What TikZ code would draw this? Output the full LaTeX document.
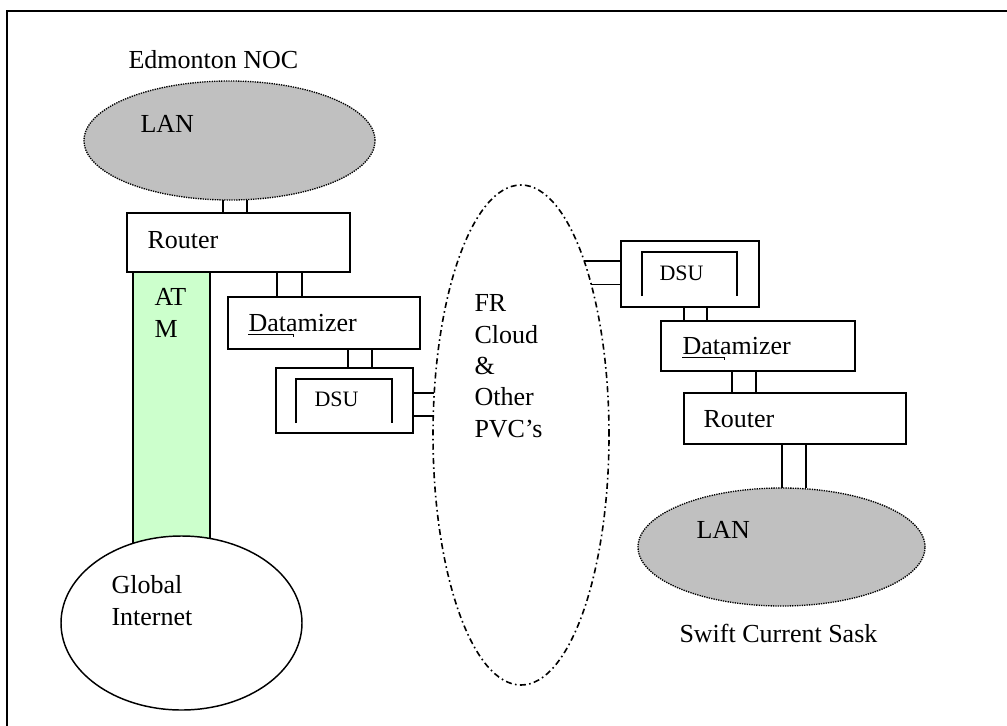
\documentclass[tikz,border=0pt]{standalone}
\usepackage{fontspec}
\setmainfont{Liberation Serif}
\usetikzlibrary{shapes.geometric}
\definecolor{langray}{RGB}{192,192,192}
\definecolor{atmgreen}{RGB}{204,255,204}
\tikzset{every picture/.style={line width=0.75pt}}
\tikzset{
  box/.style={draw, rectangle, line width=1.3pt, fill=white, inner sep=0pt, outer sep=0pt},
  lan/.style={draw, ellipse, fill=langray, line width=1pt, dash pattern={on 1pt off 0.8pt}, inner sep=0pt, outer sep=0pt},
  lbl/.style={inner sep=0pt, align=left, font=\fontsize{19.5}{23.5}\selectfont},
  dsulbl/.style={inner sep=0pt, font=\fontsize{16.5}{20}\selectfont},
  link/.style={line width=1.3pt},
}

\begin{document}
\begin{tikzpicture}[x=0.75pt,y=0.75pt,yscale=-1,xscale=1]
\useasboundingbox (0,0) rectangle (1007,725);

%Shape: Frame
\draw [line width=1.8pt] (7,11) rectangle (1012,730);

%Shape: Ellipse [lanE]
\node [lan, minimum width=218.25pt, minimum height=89.25pt] (lanE) at (229.5,140.5) {};
%Shape: Rectangle [atm]
\node [box, fill=atmgreen, anchor=north west, minimum width=57.75pt, minimum height=204.75pt] (atm) at (133,272) {};
%Shape: Ellipse [inet]
\node [draw, ellipse, fill=white, line width=1.1pt, inner sep=0pt, outer sep=0pt, minimum width=180.75pt, minimum height=130.5pt] (inet) at (181.5,623) {};
%Shape: Rectangle [routerE]
\node [box, anchor=north west, minimum width=167.25pt, minimum height=44.25pt] (routerE) at (127,213) {};
%Shape: Rectangle [datE]
\node [box, anchor=north west, minimum width=144pt, minimum height=39pt] (datE) at (228,297) {};
%Shape: Rectangle [dsuE]
\node [box, anchor=north west, minimum width=102.75pt, minimum height=48.75pt] (dsuE) at (276,368) {};

%Shape: Ellipse [cloud]
\node [draw, ellipse, line width=1.2pt, dash pattern={on 4.5pt off 2.5pt on 1.2pt off 2.5pt}, inner sep=0pt, outer sep=0pt, minimum width=132pt, minimum height=375pt] (cloud) at (521,435) {};

%Shape: Rectangle [dsuR]
\node [box, anchor=north west, minimum width=103.5pt, minimum height=49.5pt] (dsuR) at (621,241) {};
%Shape: Rectangle [datR]
\node [box, anchor=north west, minimum width=145.5pt, minimum height=37.5pt] (datR) at (661,321) {};
%Shape: Rectangle [routerR]
\node [box, anchor=north west, minimum width=166.5pt, minimum height=38.25pt] (routerR) at (684,393) {};
%Shape: Ellipse [lanR]
\node [lan, minimum width=215.25pt, minimum height=88.5pt] (lanR) at (781.5,547) {};

%Shape: DSU brackets
\draw [line width=0.8pt] ([shift={(20,55)}]dsuE.north west) -- ([shift={(20,11)}]dsuE.north west) -- ([shift={(117,11)}]dsuE.north west);
\draw [line width=1.6pt] ([shift={(116,11)}]dsuE.north west) -- ([shift={(116,55)}]dsuE.north west);
\draw [line width=0.8pt] ([shift={(21,55)}]dsuR.north west) -- ([shift={(21,11)}]dsuR.north west) -- ([shift={(117,11)}]dsuR.north west);
\draw [line width=1.6pt] ([shift={(116,11)}]dsuR.north west) -- ([shift={(116,55)}]dsuR.north west);

%Straight Lines: double links
\draw [link] ([xshift=72pt]routerE.north west) -- ([xshift=72pt]routerE.north west |- lanE.south);
\draw [link] ([xshift=90pt]routerE.north west) -- ([xshift=90pt]routerE.north west |- lanE.south);
\draw [link] ([xshift=36.75pt]datE.north west) -- ([xshift=36.75pt]datE.north west |- routerE.south);
\draw [link] ([xshift=55.5pt]datE.north west) -- ([xshift=55.5pt]datE.north west |- routerE.south);
\draw [link] ([xshift=54pt]dsuE.north west) -- ([xshift=54pt]dsuE.north west |- datE.south);
\draw [link] ([xshift=72pt]dsuE.north west) -- ([xshift=72pt]dsuE.north west |- datE.south);
\draw [link] (cloud.154 -| dsuE.east) -- (cloud.154);
\draw [link] (cloud.168 -| dsuE.east) -- (cloud.168);
\draw [link] (cloud.70) -- (cloud.70 -| dsuR.west);
\draw [link] (cloud.65) -- (cloud.65 -| dsuR.west);
\draw [link] ([xshift=47.25pt]dsuR.south west) -- ([xshift=47.25pt]dsuR.south west |- datR.north);
\draw [link] ([xshift=64.5pt]dsuR.south west) -- ([xshift=64.5pt]dsuR.south west |- datR.north);
\draw [link] ([xshift=36pt]routerR.north west) -- ([xshift=36pt]routerR.north west |- datR.south);
\draw [link] ([xshift=54pt]routerR.north west) -- ([xshift=54pt]routerR.north west |- datR.south);
\draw [link] ([xshift=73.5pt]routerR.south west) -- ([xshift=73.5pt]routerR.south west |- lanR.north);
\draw [link] ([xshift=91.5pt]routerR.south west) -- ([xshift=91.5pt]routerR.south west |- lanR.north);

% Text Node
\node [lbl, anchor=base west] (txtEdm) at (128,68) {Edmonton NOC};
% Text Node
\node [lbl, anchor=base west] (txtLanE) at (140,132) {LAN};
% Text Node
\node [lbl, anchor=base west] (txtRouterE) at (147,248) {Router};
% Text Node
\node [lbl, anchor=base west] (txtAtm) at (154,337) {AT\\M};
% Text Node
\node [lbl, anchor=base west] (txtInet) at (111,625) {Global\\Internet};
% Text Node
\node [lbl, anchor=base west] (txtDatE) at (248,331) {Datamizer};
\draw [line width=0.7pt] ([shift={(0,3)}]txtDatE.base west) -- ++(45,0) -- ++(0,3);
% Text Node
\node [dsulbl, anchor=base west] (txtDsuE) at (314,406) {DSU};
% Text Node
\node [lbl, anchor=base west] (txtCloud) at (474,437) {FR\\Cloud\\\&\\Other\\PVC’s};
% Text Node
\node [dsulbl, anchor=base west] (txtDsuR) at (659,280) {DSU};
% Text Node
\node [lbl, anchor=base west] (txtDatR) at (682,354) {Datamizer};
\draw [line width=0.7pt] ([shift={(0,3)}]txtDatR.base west) -- ++(42,0) -- ++(0,3);
% Text Node
\node [lbl, anchor=base west] (txtRouterR) at (703,427) {Router};
% Text Node
\node [lbl, anchor=base west] (txtLanR) at (696,538) {LAN};
% Text Node
\node [lbl, anchor=base west] (txtSwift) at (679,642) {Swift Current Sask};
\end{tikzpicture}
\end{document}
